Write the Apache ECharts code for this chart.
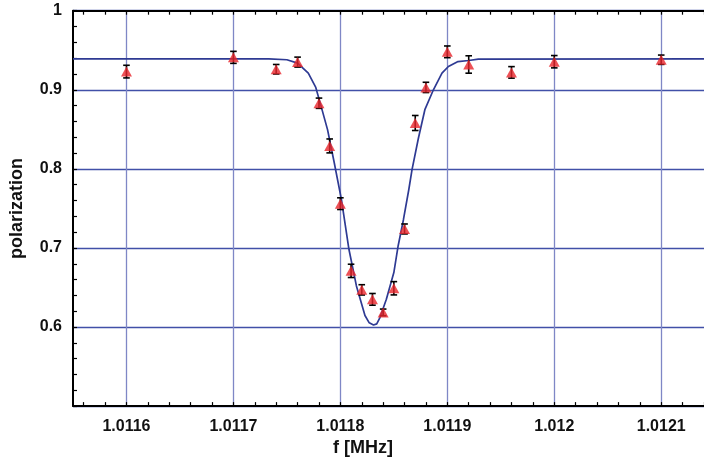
<!DOCTYPE html>
<html>
<head>
<meta charset="utf-8">
<script src="https://cdn.jsdelivr.net/npm/echarts@6/dist/echarts.min.js"></script>
<style>
html,body{margin:0;padding:0;background:#fff;}
#c{width:704px;height:462px;}
</style>
</head>
<body>
<div id="c"></div>
<script>
// Measured data points
const freq = [1.0116, 1.0117, 1.01174, 1.01176, 1.01178, 1.01179, 1.0118, 1.01181, 1.01182, 1.01183, 1.01184, 1.01185, 1.01186, 1.01187, 1.01188, 1.0119, 1.01192, 1.01196, 1.012, 1.0121];
const pol = [0.923, 0.941, 0.926, 0.935, 0.883, 0.829, 0.756, 0.671, 0.647, 0.635, 0.6185, 0.649, 0.724, 0.858, 0.903, 0.948, 0.932, 0.922, 0.9355, 0.938];
const polErr = [0.008, 0.0076, 0.006, 0.0063, 0.0065, 0.0088, 0.0074, 0.0084, 0.0065, 0.0074, 0.0042, 0.0084, 0.0063, 0.0095, 0.0065, 0.0074, 0.011, 0.0073, 0.0078, 0.0059];

// Fit curve
const fitFreq = [1.01155, 1.011733, 1.01175, 1.01176, 1.01177, 1.011777, 1.011782, 1.011788, 1.011794, 1.011801, 1.011808, 1.011815, 1.011823, 1.011827, 1.011831, 1.011834, 1.011837, 1.011843, 1.01185, 1.011854, 1.011859, 1.011864, 1.011867, 1.011873, 1.011879, 1.011887, 1.011895, 1.011901, 1.01191, 1.01192, 1.011929, 1.01214];
const fitPol = [0.939, 0.939, 0.938, 0.9337, 0.921, 0.903, 0.879, 0.8496, 0.8096, 0.761, 0.6983, 0.652, 0.6145, 0.6053, 0.6025, 0.604, 0.612, 0.635, 0.6689, 0.7025, 0.736, 0.7739, 0.799, 0.839, 0.8748, 0.9, 0.921, 0.9294, 0.9357, 0.937, 0.9387, 0.939];

// Axis ticks
const xTickLabels = [1.0116, 1.0117, 1.0118, 1.0119, 1.012, 1.0121];
const xMin = 1.01155, xMax = 1.01214;
const yMin = 0.5, yMax = 1.0, yStep = 0.1;

const minorX = [];
for (let i = 50578; i <= 50607; i++) {
  const n = i * 2;
  if (n % 10 !== 0) minorX.push(n / 100000);
}
const allX = xTickLabels.concat(minorX);

const font = 'Liberation Sans, Arial, sans-serif';
const chart = echarts.init(document.getElementById('c'));

chart.setOption({
  animation: false,
  backgroundColor: '#fff',
  grid: {left: 71, right: 0, top: 10.7, bottom: 54.7, containLabel: false},
  xAxis: [
    {
      type: 'value', min: xMin, max: xMax, position: 'bottom',
      name: 'f [MHz]', nameLocation: 'middle', nameGap: 32,
      nameTextStyle: {fontFamily: font, fontWeight: 'bold', fontSize: 18, color: '#111', padding: [0, 51, 0, 0]},
      axisLine: {show: true, lineStyle: {color: '#000', width: 2}},
      axisTick: {show: true, inside: true, length: 4, customValues: xTickLabels, lineStyle: {color: '#000', width: 1.2}},
      axisLabel: {customValues: xTickLabels, margin: 12, fontFamily: font, fontWeight: 'bold', fontSize: 16, color: '#111'},
      splitLine: {show: true, lineStyle: {color: '#7f87c6', width: 1.3}}
    },
    {
      type: 'value', min: xMin, max: xMax, position: 'bottom',
      axisLine: {show: false},
      axisTick: {show: true, inside: true, length: 4, customValues: minorX, lineStyle: {color: '#000', width: 1.2}},
      axisLabel: {show: false},
      splitLine: {show: false}
    },
    {
      type: 'value', min: xMin, max: xMax, position: 'top',
      axisLine: {show: true, lineStyle: {color: '#000', width: 2}},
      axisTick: {show: true, inside: true, length: 4, customValues: allX, lineStyle: {color: '#000', width: 1.2}},
      axisLabel: {show: false},
      splitLine: {show: false}
    }
  ],
  yAxis: {
    type: 'value', min: yMin, max: yMax, interval: yStep,
    name: 'polarization', nameLocation: 'middle', nameGap: 47,
    nameTextStyle: {fontFamily: font, fontWeight: 'bold', fontSize: 18, color: '#111'},
    axisLine: {show: true, lineStyle: {color: '#000', width: 2}},
    axisTick: {show: true, inside: true, length: 4, lineStyle: {color: '#000', width: 1.2}},
    minorTick: {show: true, splitNumber: 5, length: 4, lineStyle: {color: '#000', width: 1.2}},
    axisLabel: {showMinLabel: false, margin: 11, fontFamily: font, fontWeight: 'bold', fontSize: 16, color: '#111'},
    splitLine: {show: true, lineStyle: {color: '#4150a8', width: 1.3}}
  },
  series: [
    {
      type: 'line', xAxisIndex: 0, z: 2,
      data: fitFreq.map((f, i) => [f, fitPol[i]]),
      showSymbol: false, symbol: 'none', smooth: false,
      lineStyle: {color: '#2e3a93', width: 1.7}
    },
    {
      type: 'custom', xAxisIndex: 0, z: 3,
      data: freq.map((f, i) => [f, pol[i], polErr[i]]),
      renderItem: function (params, api) {
        const x = api.value(0), y = api.value(1), e = api.value(2);
        const lo = api.coord([x, y - e]);
        const hi = api.coord([x, y + e]);
        const w = 3.3;
        const st = {stroke: '#000', lineWidth: 1.6};
        return {
          type: 'group',
          children: [
            {type: 'line', shape: {x1: lo[0], y1: lo[1], x2: hi[0], y2: hi[1]}, style: st},
            {type: 'line', shape: {x1: lo[0] - w, y1: lo[1], x2: lo[0] + w, y2: lo[1]}, style: st},
            {type: 'line', shape: {x1: hi[0] - w, y1: hi[1], x2: hi[0] + w, y2: hi[1]}, style: st}
          ]
        };
      }
    },
    {
      type: 'scatter', xAxisIndex: 0, z: 4,
      data: freq.map((f, i) => [f, pol[i]]),
      symbol: 'triangle', symbolSize: [11, 10],
      itemStyle: {color: '#e8262c'}
    }
  ]
});
</script>
</body>
</html>
